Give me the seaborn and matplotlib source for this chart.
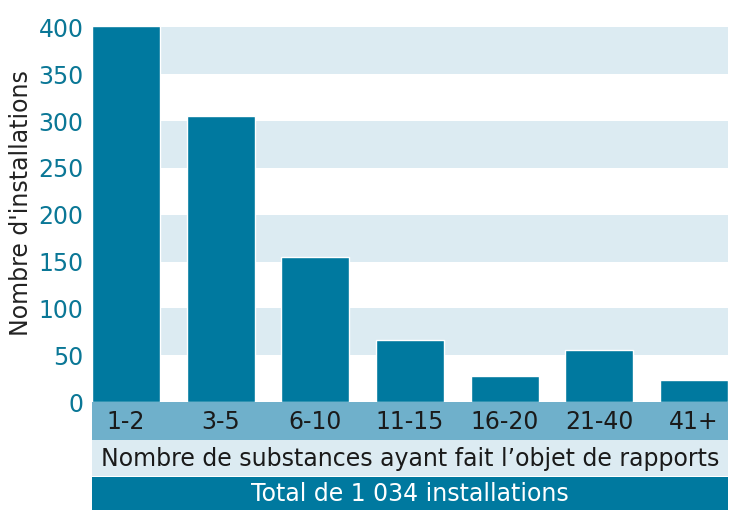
import matplotlib
matplotlib.use("Agg")
import matplotlib.pyplot as plt
import seaborn as sns
import pandas as pd
from matplotlib.patches import Rectangle

categories = ["1-2", "3-5", "6-10", "11-15", "16-20", "21-40", "41+"]
values = [402, 305, 155, 66, 28, 56, 23]
yticks = [0, 50, 100, 150, 200, 250, 300, 350, 400]

sns.set_style("white")
plt.rcParams['font.family'] = ['Liberation Sans Narrow', 'DejaVu Sans']

W, H = 754, 532
fig = plt.figure(figsize=(W/100, H/100), dpi=100)
x0, x1, ytop, ybot = 92, 728, 5, 402
ax = fig.add_axes([x0/W, 1-ybot/H, (x1-x0)/W, (ybot-ytop)/H])

bar_c = "#00799f"
light = "#dcebf2"
mid = "#6fb0cb"

df = pd.DataFrame({"cat": categories, "val": values})
for lo in [50, 150, 250, 350]:
    ax.axhspan(lo, lo+50, color=light, zorder=0, lw=0)
sns.barplot(data=df, x="cat", y="val", color=bar_c, saturation=1, width=0.72, ax=ax, zorder=2)
ax.set_xlim(-0.36, 6.36)
ax.set_ylim(0, 424)
ax.set_yticks(yticks)
ax.tick_params(axis='y', labelsize=17, labelcolor="#0a7796", length=0, pad=6)
ax.set_xticks([])
ax.set_xlabel("")
ax.set_ylabel("Nombre d'installations", fontsize=17, color="#222222")
for s in ax.spines.values():
    s.set_visible(False)

def band(y0, y1, color):
    fig.patches.append(Rectangle((x0/W, 1-y1/H), (x1-x0)/W, (y1-y0)/H,
                                 transform=fig.transFigure, color=color, lw=0))
band(402, 440, mid)
band(440, 476, light)
band(477, 510, bar_c)

for i, c in enumerate(categories):
    xd = ax.transData.transform((i, 0))[0]
    fig.text(xd/W, 1-422/H, c, ha="center", va="center", fontsize=17, color="#1a1a1a")
fig.text((x0+x1)/2/W, 1-459/H, "Nombre de substances ayant fait l\u2019objet de rapports",
         ha="center", va="center", fontsize=17, color="#1a1a1a")
fig.text((x0+x1)/2/W, 1-494/H, "Total de 1 034 installations",
         ha="center", va="center", fontsize=17, color="white")

fig.savefig("out.png", dpi=100)
